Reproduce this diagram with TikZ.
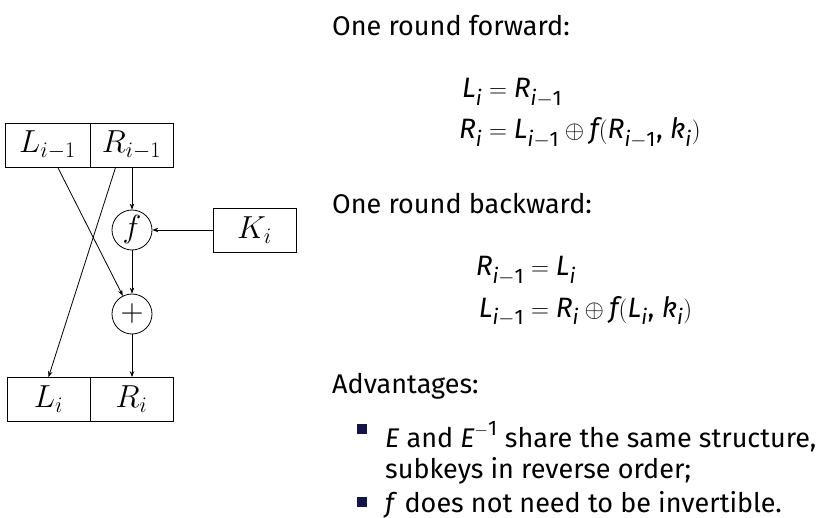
\documentclass[tikz,border=0pt]{standalone}
\usepackage{amsmath}
\usepackage[no-math]{fontspec}
\setmainfont{Fira Sans}
\usetikzlibrary{arrows.meta,calc}
\newcommand\sv[1]{\textit{#1}}
\newcommand\sbx[1]{\mbox{\fontsize{21}{21}\selectfont #1}}
\newcommand\dg[1]{\scalebox{1.28}{$#1$}}
\definecolor{bulletblue}{RGB}{20,20,72}
\tikzset{
  reg/.style={draw, line width=0.8pt, minimum height=44pt, minimum width=83pt, inner sep=0pt, font=\fontsize{24}{28}\selectfont},
  op/.style={draw, circle, line width=0.8pt, minimum size=40pt, inner sep=0pt, font=\fontsize{24}{28}\selectfont},
  flow/.style={line width=0.8pt, -{Stealth[length=6pt,width=4.5pt]}},
  txt/.style={anchor=base west, inner sep=0pt, font=\fontsize{27}{32}\selectfont},
  eqn/.style={anchor=base west, inner sep=0pt, font=\fontsize{28}{32}\selectfont},
  bul/.style={fill=bulletblue, minimum size=10pt, inner sep=0pt}
}
\begin{document}
\begin{tikzpicture}[x=1pt,y=-1pt]
\useasboundingbox (0,0) rectangle (834,518);
% diagram
\node[reg, minimum width=85pt] (Lt) at (47.5,145) {\dg{L_{i-1}}};
\node[reg] (Rt) at (131.5,145) {\dg{R_{i-1}}};
\node[reg] (Lb) at (48.5,399.5) {\dg{L_i}};
\node[reg] (Rb) at (131.5,399.5) {\dg{R_i}};
\node[reg] (K) at (254.5,230) {\dg{K_i}};
\node[op] (f) at (132,230) {\dg{f}};
\node[op] (p) at (132,314) {\dg{+}};
\coordinate (Ls) at ($(Lt.south west)!0.62!(Lt.south east)$);
\coordinate (Rs) at ($(Rt.south west)!0.31!(Rt.south east)$);
\draw[flow] (Rt.south -| f) -- (f);
\draw[flow] (K) -- (f);
\draw[flow] (f) -- (p);
\draw[flow] (p) -- (Rb.north -| p);
\draw[flow] (Ls) -- (p);
\draw[flow] (Rs) -- (Lb.north);
% text
\node[txt] (t1) at (332,36) {One round forward:};
\node[eqn] (e1) at (482,98) {$\llap{$\sv{L}_{\sbx{\itshape i}}$}{}= \sv{R}_{\sbx{\itshape i}-\sbx{1}}$};
\node[eqn] (e2) at (482,139) {$\llap{$\sv{R}_{\sbx{\itshape i}}$}{}= \sv{L}_{\sbx{\itshape i}-\sbx{1}}\oplus \sv{f}(\sv{R}_{\sbx{\itshape i}-\sbx{1}}\text{, }\sv{k}_{\sbx{\itshape i}})$};
\node[txt] (t2) at (332,214) {One round backward:};
\node[eqn] (e3) at (524,276) {$\llap{$\sv{R}_{\sbx{\itshape i}-\sbx{1}}$}{}= \sv{L}_{\sbx{\itshape i}}$};
\node[eqn] (e4) at (524,317) {$\llap{$\sv{L}_{\sbx{\itshape i}-\sbx{1}}$}{}= \sv{R}_{\sbx{\itshape i}}\oplus \sv{f}(\sv{L}_{\sbx{\itshape i}}\text{, }\sv{k}_{\sbx{\itshape i}})$};
\node[txt] (t3) at (332,393) {Advantages:};
\node[bul] (b1) at (362,429) {};
\node[txt] (a1) at (385,447) {\sv{E} and $\sv{E}^{-\sbx{1}}$ share the same structure,};
\node[txt] (a2) at (385,478) {subkeys in reverse order;};
\node[bul] (b2) at (362,502) {};
\node[txt] (a3) at (385,512) {\sv{f} does not need to be invertible.};
\end{tikzpicture}
\end{document}
